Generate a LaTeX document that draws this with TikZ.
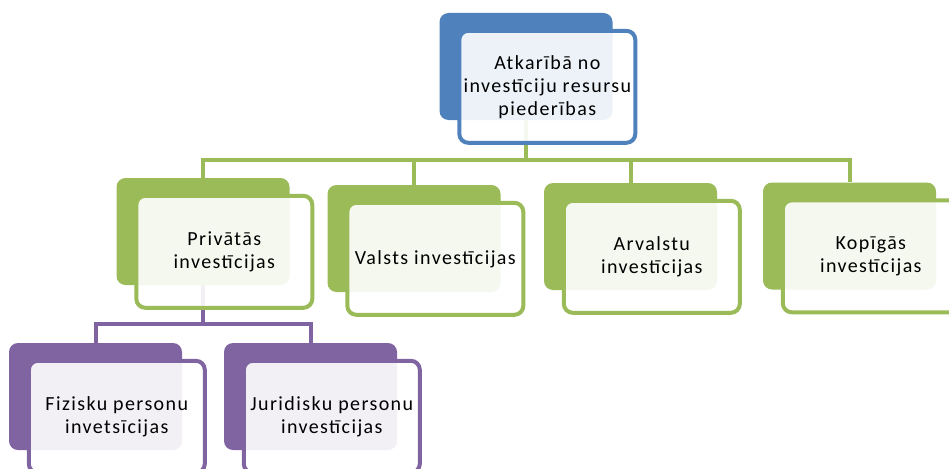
\documentclass[tikz,border=0pt]{standalone}
\usepackage{fontspec}
\setmainfont{Carlito}[LetterSpace=7]
\usepackage{tikz}
\usetikzlibrary{positioning}
\definecolor{cblue}{HTML}{4F81BD}
\definecolor{cgreen}{HTML}{9BBB59}
\definecolor{cpurple}{HTML}{8064A2}
\tikzstyle{backbox} = [rectangle, rounded corners=9pt, minimum width=173pt, minimum height=107pt, inner sep=0pt]
\tikzstyle{frontbox} = [rectangle, rounded corners=9pt, line width=4pt, fill=white, fill opacity=0.9, text opacity=1, text=black, minimum width=176pt, minimum height=112pt, inner sep=0pt, align=center, anchor=north west, font=\fontsize{20}{23}\selectfont]
\tikzstyle{link} = [line width=4pt]

\begin{document}
\begin{tikzpicture}[x=1pt,y=-1pt]
			\clip (0,0) rectangle (949,468);
			% back boxes
			\node[backbox, fill=cblue] (b0) at (526,66.5) {};
			\node[backbox, fill=cgreen] (b1) at (203,231.5) {};
			\node[backbox, fill=cgreen] (b2) at (414,238.5) {};
			\node[backbox, fill=cgreen] (b3) at (630.5,236.5) {};
			\node[backbox, fill=cgreen] (b4) at (849.5,236) {};
			\node[backbox, fill=cpurple] (b5) at (95.5,396.5) {};
			\node[backbox, fill=cpurple] (b6) at (310.5,396.5) {};
			% connectors
			\draw[link, cgreen] (b0.south) -- ++(0,40) -| (b1.north);
			\draw[link, cgreen] (b0.south) -- ++(0,40) -| (b2.north);
			\draw[link, cgreen] (b0.south) -- ++(0,40) -| (b3.north);
			\draw[link, cgreen] (b0.south) -- ++(0,40) -| (b4.north);
			\draw[link, cpurple] (b1.south) -- ++(0,39) -| (b5.north);
			\draw[link, cpurple] (b1.south) -- ++(0,39) -| (b6.north);
			% front boxes
			\node[frontbox, draw=cblue] (f0) at ([shift={(18,16)}]b0.north west) {Atkarībā no\\investīciju resursu\\piederības};
			\node[frontbox, draw=cgreen] (f1) at ([shift={(18,16)}]b1.north west) {Privātās\\investīcijas};
			\node[frontbox, draw=cgreen] (f2) at ([shift={(18,16)}]b2.north west) {Valsts investīcijas};
			\node[frontbox, draw=cgreen] (f3) at ([shift={(18,16)}]b3.north west) {Arvalstu\\investīcijas};
			\node[frontbox, draw=cgreen] (f4) at ([shift={(18,16)}]b4.north west) {Kopīgās\\investīcijas};
			\node[frontbox, draw=cpurple] (f5) at ([shift={(18,16)}]b5.north west) {Fizisku personu\\invetsīcijas};
			\node[frontbox, draw=cpurple] (f6) at ([shift={(18,16)}]b6.north west) {Juridisku personu\\investīcijas};
		\end{tikzpicture}
\end{document}
